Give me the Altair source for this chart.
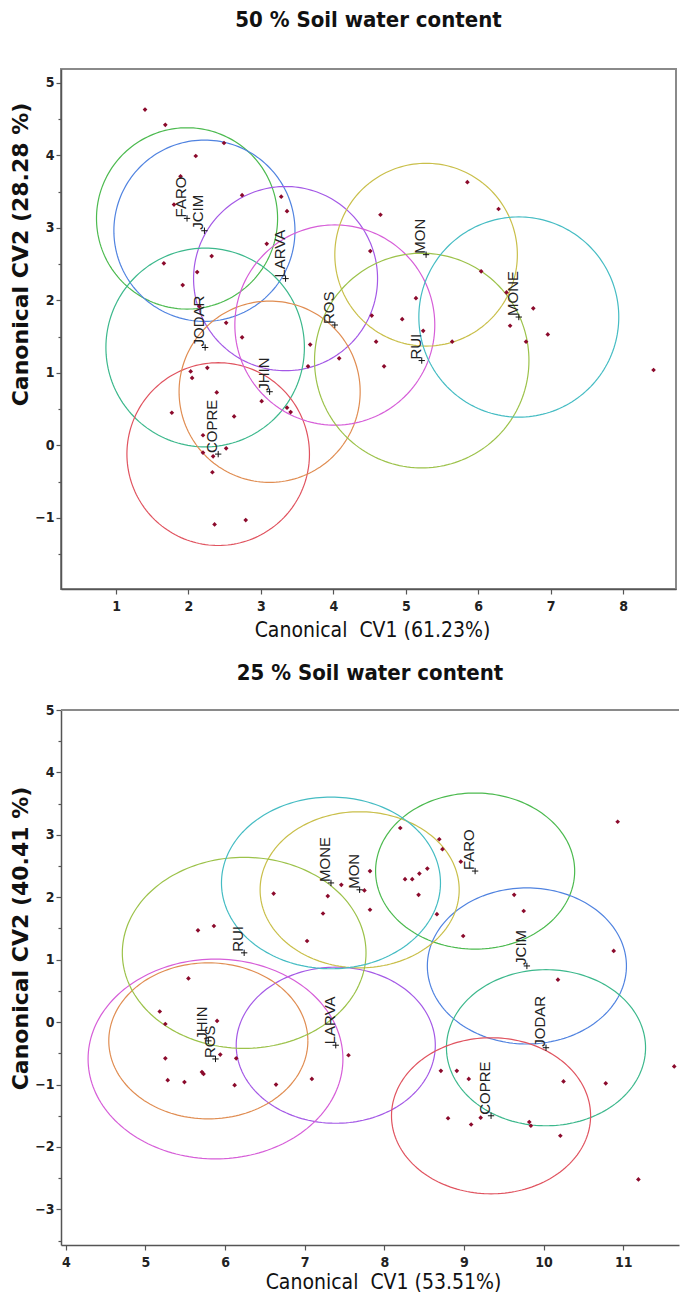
import altair as alt
import numpy as np
import pandas as pd

NARROW = "DejaVu Sans Condensed, Liberation Sans Narrow, sans-serif"

genotypes = ["FARO", "JCIM", "LARVA", "JODAR", "COPRE", "JHIN", "ROS", "MON", "RUI", "MONE"]
colors = ["#4cba4f", "#5083e0", "#a459e6", "#3cb88c", "#e0535f",
          "#e08d52", "#d65ed8", "#c9bf4a", "#9cc24a", "#45bcc3"]

# ---------------- 50 % soil water content ----------------
t_cx = [1.98, 2.22, 3.34, 2.23, 2.41, 3.12, 4.02, 5.28, 5.22, 6.56]
t_cy = [3.13, 2.96, 2.30, 1.35, -0.12, 0.74, 1.66, 2.63, 1.17, 1.77]
t_r = [1.25, 1.25, 1.27, 1.37, 1.26, 1.25, 1.38, 1.26, 1.48, 1.38]
t_px = [1.40, 1.68, 2.49, 2.10, 1.89, 1.80, 2.74, 3.28, 3.36, 3.08, 2.32, 1.66, 2.12, 1.92,
        2.15, 2.52, 2.74, 3.68, 5.85, 4.65, 6.28, 4.51, 6.04, 6.39, 5.14, 6.76, 4.53, 4.95,
        6.44, 5.24, 6.96, 4.59, 5.64, 6.66, 4.08, 3.65, 4.70, 2.03, 2.26, 2.05, 2.39, 3.01,
        3.36, 3.41, 1.77, 2.63, 2.20, 2.20, 2.34, 2.52, 2.33, 2.36, 2.79, 8.42]
t_py = [4.63, 4.42, 4.17, 3.99, 3.71, 3.32, 3.45, 3.43, 3.23, 2.78, 2.61, 2.51, 2.39, 2.21,
        1.92, 1.69, 1.49, 1.39, 3.63, 3.18, 3.26, 2.68, 2.40, 2.11, 2.03, 1.89, 1.79, 1.74,
        1.65, 1.58, 1.53, 1.43, 1.43, 1.43, 1.20, 1.09, 1.09, 1.02, 1.07, 0.93, 0.73, 0.61,
        0.52, 0.46, 0.45, 0.40, 0.14, -0.10, -0.15, -0.04, -0.37, -1.09, -1.03, 1.04]

# ---------------- 25 % soil water content ----------------
b_cx = [9.14, 9.79, 7.39, 10.03, 9.34, 5.79, 5.88, 7.69, 6.24, 7.33]
b_cy = [2.42, 0.90, -0.37, -0.41, -1.50, -0.30, -0.59, 2.12, 1.11, 2.23]
b_r = [1.25, 1.25, 1.25, 1.25, 1.25, 1.25, 1.60, 1.25, 1.53, 1.375]
b_px = [8.20, 8.69, 8.73, 7.82, 8.54, 8.44, 8.26, 8.35, 7.46, 7.75, 7.29, 8.43, 6.61, 7.23,
        7.82, 8.66, 7.03, 5.86, 5.66, 5.54, 5.18, 5.25, 5.90, 8.96, 8.99, 9.63, 9.75, 10.93,
        10.88, 10.18, 11.64, 8.71, 8.91, 9.06, 10.25, 10.78, 8.80, 9.09, 9.21, 9.82, 9.84,
        10.21, 11.19, 5.94, 5.25, 6.14, 5.71, 5.73, 5.28, 5.49, 6.12, 6.64, 7.09, 7.55]
b_py = [3.11, 2.93, 2.77, 2.42, 2.46, 2.38, 2.29, 2.29, 2.20, 2.11, 2.02, 2.04, 2.06, 1.74,
        1.80, 1.73, 1.30, 1.54, 1.47, 0.70, 0.17, -0.03, 0.02, 2.57, 1.38, 2.04, 1.78, 3.21,
        1.14, 0.68, -0.71, -0.78, -0.78, -0.91, -0.95, -0.98, -1.54, -1.64, -1.53, -1.60,
        -1.66, -1.82, -2.52, -0.52, -0.58, -0.58, -0.80, -0.83, -0.93, -0.96, -1.01, -1.00,
        -0.91, -0.53]


def circle_frame(cx, cy, r):
    rows = []
    ang = np.linspace(0, 2 * np.pi, 181)
    for g, x0, y0, rr in zip(genotypes, cx, cy, r):
        for i, a in enumerate(ang):
            rows.append({"g": g, "i": i, "x": x0 + rr * np.cos(a), "y": y0 + rr * np.sin(a)})
    return pd.DataFrame(rows)


AXIS_COMMON = dict(
    grid=False, labelFont=NARROW, labelFontWeight="bold", labelFontSize=14,
    labelColor="#222", domainColor="#555", tickColor="#555", domainWidth=1.5,
    tickWidth=1.2, tickSize=5,
)


def panel(title, xtitle, ytitle, xdom, ydom, xvals, yvals, cx, cy, r, px, py,
          width, height, ytitle_y, xtitle_x, title_offset, xtitle_pad, open_right=False):
    circ = circle_frame(cx, cy, r)
    pts = pd.DataFrame({"x": px, "y": py})
    lab = pd.DataFrame({"g": genotypes, "x": cx, "y": cy})

    xs = alt.Scale(domain=xdom, nice=False, zero=False)
    ys = alt.Scale(domain=ydom, nice=False, zero=False)
    x_main = alt.X("x:Q", scale=xs, title=xtitle,
                   axis=alt.Axis(values=xvals, titleFont=NARROW, titleFontSize=21,
                                 titleFontWeight="normal", titleColor="#111",
                                 labelPadding=5, titlePadding=xtitle_pad, titleX=xtitle_x,
                                 **AXIS_COMMON))
    y_main = alt.Y("y:Q", scale=ys, title=ytitle,
                   axis=alt.Axis(values=yvals, orient="left", titleFont="DejaVu Sans",
                                 titleFontSize=22, titleFontWeight="bold", titleColor="#111",
                                 labelPadding=2, titlePadding=2, titleY=ytitle_y,
                                 **AXIS_COMMON))
    y_none = alt.Y("y:Q", scale=ys, axis=None)
    minor_vals = [v + 0.5 for v in yvals] + [yvals[0] - 0.5]
    y_minor = alt.Y("y:Q", scale=ys, title=None,
                    axis=alt.Axis(values=minor_vals, orient="left", labels=False,
                                  domain=False, ticks=True, tickSize=3, tickColor="#555",
                                  tickWidth=1.2, grid=False))

    circles = alt.Chart(circ).mark_line(strokeWidth=1.2, clip=True).encode(
        x=x_main, y=y_main, detail="g:N", order="i:Q",
        color=alt.Color("g:N", scale=alt.Scale(domain=genotypes, range=colors), legend=None),
    )
    minor = alt.Chart(lab).mark_point(opacity=0).encode(x=x_main, y=y_minor)
    points = alt.Chart(pts).mark_point(shape="diamond", filled=True, size=22,
                                       color="#8b0a2c", opacity=1).encode(x=x_main, y=y_none)
    plus = alt.Chart(lab).mark_point(shape="M-1,0L1,0M0,-1L0,1", size=40, color="#111",
                                     strokeWidth=1, filled=False, opacity=1).encode(x=x_main, y=y_none)
    labels = alt.Chart(lab).mark_text(angle=270, align="left", baseline="alphabetic",
                                      fontSize=15, font="Liberation Sans", color="#222",
                                      dx=1, dy=-1).encode(x=x_main, y=y_none, text="g:N")

    layers = [circles, minor, points, plus, labels]
    view = alt.ViewBackground(stroke="#8a8a8a", strokeWidth=2)
    if open_right:
        frame_top = alt.Chart(lab).mark_rule(color="#8a8a8a", strokeWidth=2).encode(
            x=alt.value(0), x2=alt.value(width), y=alt.value(0))
        layers.append(frame_top)
        view = alt.ViewBackground(strokeWidth=0)
    ch = alt.layer(*layers).resolve_axis(y="independent")
    return ch.properties(
        width=width, height=height, view=view,
        title=alt.Title(title, fontSize=22, font=NARROW, fontWeight="bold",
                        anchor="middle", offset=title_offset, color="#111"),
    )


top = panel("50 % Soil water content", "Canonical\u00a0 CV1 (61.23%)", "Canonical CV2 (28.28 %)",
            [0.24, 8.73], [-1.98, 5.19], [1, 2, 3, 4, 5, 6, 7, 8], [-1, 0, 1, 2, 3, 4, 5],
            t_cx, t_cy, t_r, t_px, t_py, 615, 520, 185, 311, 37, 6)
bottom = panel("25 % Soil water content", "Canonical\u00a0 CV1 (53.51%)", "Canonical CV2 (40.41 %)",
               [3.94, 11.70], [-3.57, 5.0], [4, 5, 6, 7, 8, 9, 10, 11],
               [-3, -2, -1, 0, 1, 2, 3, 4, 5],
               b_cx, b_cy, b_r, b_px, b_py, 618, 535, 228, 322, 18, 2, open_right=True)

chart = alt.vconcat(top, bottom, spacing=21).properties(padding=0).configure_view(
    stroke="#8a8a8a", strokeWidth=2)

chart.save("out.html", embed_options={"renderer": "svg", "actions": False})
